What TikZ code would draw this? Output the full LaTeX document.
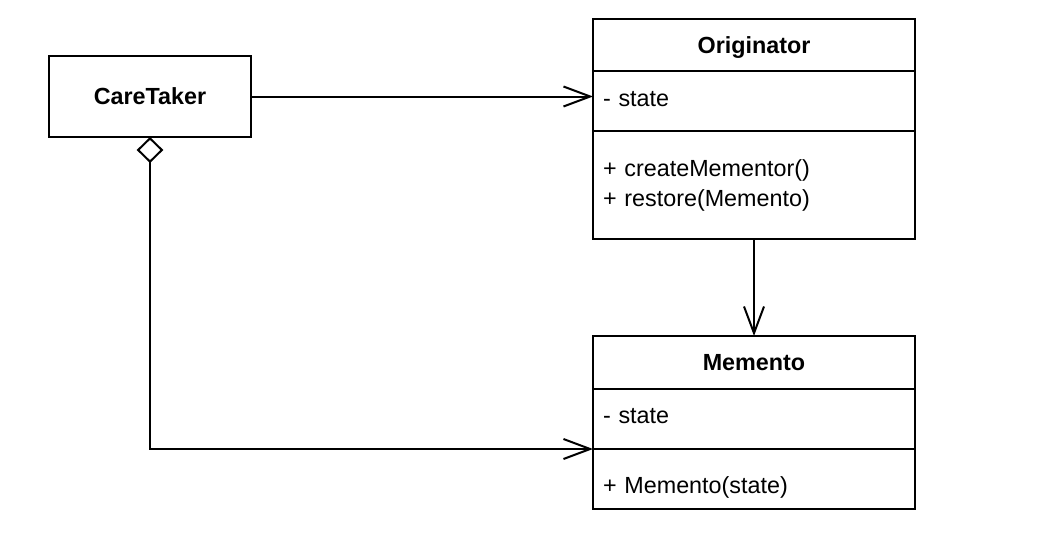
\documentclass[tikz,border=0pt]{standalone}
\usepackage{fontspec}
\setmainfont{Liberation Sans}
\usetikzlibrary{positioning,arrows.meta}
\begin{document}
\begin{tikzpicture}[x=.75pt, y=-.75pt,
		every node/.style={font=\fontsize{17.5}{22.5}\selectfont},
		box/.style={draw, line width=1.5pt, outer sep=0pt, inner sep=0pt},
		head/.style={box, minimum width=241.5pt, text height=12.5pt, text depth=0pt, font=\fontsize{17.5}{22.5}\selectfont\bfseries},
		part/.style={box, minimum width=241.5pt, text width=226.5pt, inner xsep=7.5pt, align=left},
		assoc/.style={line width=1.5pt, -{Straight Barb[length=20pt, width=15pt, line width=1.5pt]}}]
	\useasboundingbox (0,0) rectangle (1048,542);

	\node [box, minimum width=151.5pt, minimum height=60.75pt, font=\fontsize{17.5}{22.5}\selectfont\bfseries] (care) at (150,96.5) {CareTaker};

	\node [head, minimum height=39pt] (orig) at (754,45) {Originator};
	\node [part, minimum height=45pt, text height=10.5pt, text depth=3pt, below=0pt of orig] (origattr) {- state};
	\node [part, minimum height=81pt, below=0pt of origattr] (origops) {+ createMementor()\\+ restore(Memento)};

	\node [head, minimum height=39.75pt] (memo) at (754,362.5) {Memento};
	\node [part, minimum height=45pt, text height=9pt, text depth=3pt, below=0pt of memo] (memoattr) {- state};
	\node [part, minimum height=45pt, text height=21pt, text depth=0pt, below=0pt of memoattr] (memoops) {+ Memento(state)};

	\draw [assoc] (care.east) -- (care.east -| origattr.west);
	\draw [assoc] (origops.south) -- (memo.north);
	\draw [assoc, {Diamond[open, fill=white, length=19.5pt, width=20pt, line width=1.5pt]}-{Straight Barb[length=20pt, width=15pt, line width=1.5pt]}]
		(care.south) |- (memoattr.south west);
\end{tikzpicture}
\end{document}
